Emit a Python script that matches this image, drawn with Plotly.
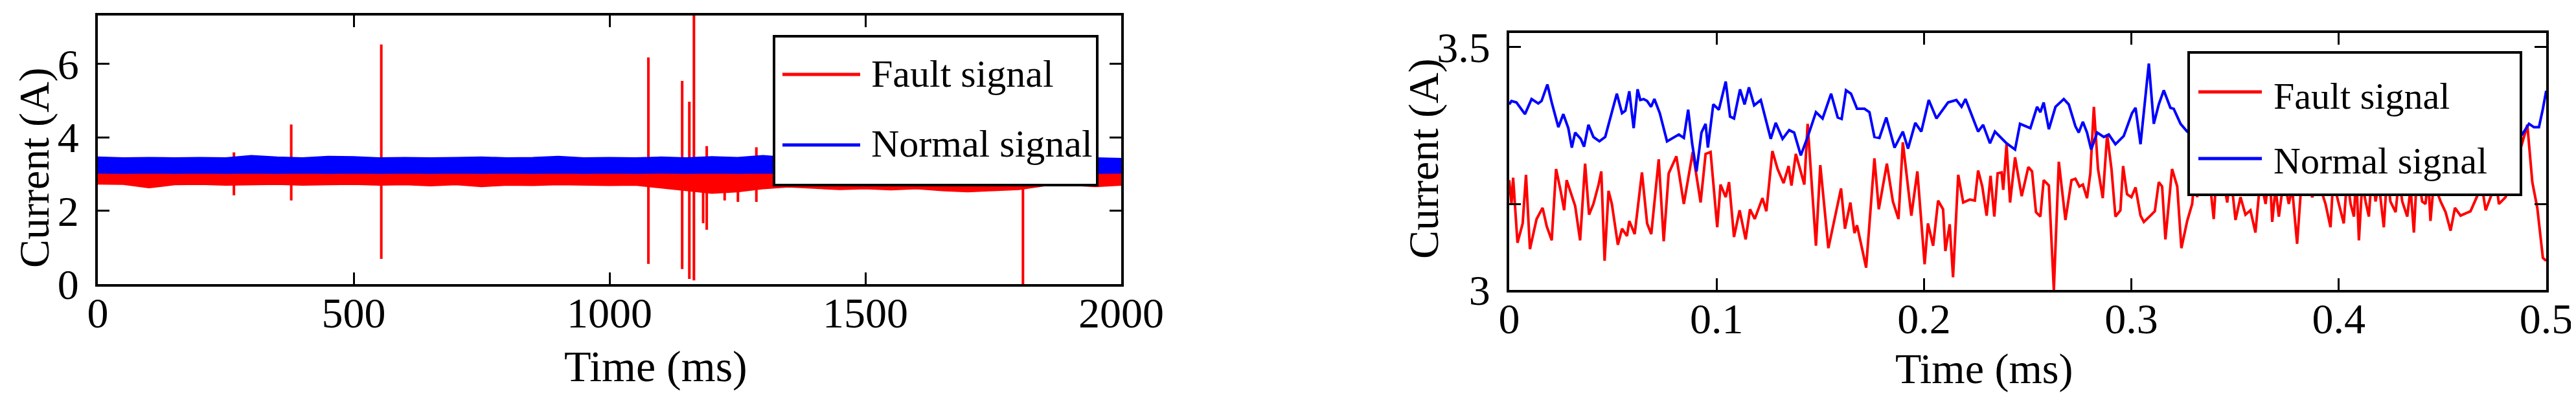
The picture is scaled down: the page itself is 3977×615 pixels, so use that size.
import plotly.graph_objects as go

FONT = "Liberation Serif"
RED = "#FF0000"
BLUE = "#0000FF"

# ---- left panel: 0-2000 ms, dense bands (envelopes) + fault spikes ----
env_t = [0, 50, 100, 150, 200, 250, 300, 350, 400, 450, 500, 550, 600, 650, 700,
         750, 800, 850, 900, 950, 1000, 1050, 1100, 1150, 1200, 1250, 1300, 1350,
         1400, 1450, 1500, 1550, 1600, 1650, 1700, 1750, 1800, 1850, 1900, 1950, 2000]
normal_upper = [3.46, 3.44, 3.45, 3.44, 3.45, 3.44, 3.50, 3.46, 3.44, 3.48, 3.47, 3.44,
                3.45, 3.44, 3.45, 3.46, 3.44, 3.45, 3.48, 3.44, 3.45, 3.44, 3.46, 3.44,
                3.47, 3.45, 3.50, 3.45, 3.44, 3.46, 3.45, 3.44, 3.45, 3.46, 3.44, 3.45,
                3.44, 3.45, 3.46, 3.44, 3.42]
normal_lower = [3.03, 3.02, 3.03, 3.02, 3.03, 3.02, 3.03, 3.02, 3.03, 3.02, 3.03, 3.02,
                3.03, 3.02, 3.03, 3.02, 3.03, 3.02, 3.03, 3.02, 3.03, 3.02, 3.03, 3.02,
                3.03, 3.02, 3.03, 3.02, 3.03, 3.02, 3.03, 3.02, 3.03, 3.02, 3.03, 3.02,
                3.03, 3.02, 3.03, 3.02, 3.03]
fault_upper = [3.08, 3.07, 3.08, 3.07, 3.08, 3.07, 3.08, 3.07, 3.08, 3.07, 3.08, 3.07,
               3.08, 3.07, 3.08, 3.07, 3.08, 3.07, 3.08, 3.07, 3.08, 3.07, 3.08, 3.07,
               3.08, 3.07, 3.08, 3.07, 3.08, 3.07, 3.08, 3.07, 3.08, 3.07, 3.08, 3.07,
               3.08, 3.07, 3.08, 3.07, 3.08]
fault_lower = [2.73, 2.72, 2.63, 2.71, 2.72, 2.70, 2.71, 2.72, 2.70, 2.71, 2.72, 2.70,
               2.71, 2.68, 2.71, 2.66, 2.70, 2.69, 2.71, 2.70, 2.69, 2.70, 2.62, 2.55,
               2.48, 2.52, 2.60, 2.65, 2.62, 2.58, 2.60, 2.57, 2.60, 2.55, 2.52, 2.55,
               2.58, 2.68, 2.70, 2.66, 2.70]

spike_t = [266, 378, 554, 1076, 1142, 1156, 1165, 1183, 1190, 1225, 1251, 1287, 1808]
spike_lo = [2.42, 2.28, 0.69, 0.55, 0.41, 0.14, 0.10, 1.66, 1.48, 2.28, 2.24, 2.24, 0.00]
spike_hi = [3.59, 4.35, 6.53, 6.18, 5.54, 4.97, 7.40, 3.00, 3.76, 3.00, 3.00, 3.73, 2.80]

# ---- right panel: 0-0.5 ms zoom ----
normal_t = [0.0000, 0.0011, 0.0035, 0.0076, 0.0108, 0.0140, 0.0156, 0.0184, 0.0205, 0.0237,
            0.0261, 0.0285, 0.0302, 0.0318, 0.0345, 0.0361, 0.0382, 0.0406, 0.0435, 0.0463,
            0.0519, 0.0544, 0.0560, 0.0579, 0.0600, 0.0619, 0.0632, 0.0648, 0.0665, 0.0684,
            0.0700, 0.0726, 0.0761, 0.0794, 0.0818, 0.0842, 0.0863, 0.0882, 0.0903, 0.0927,
            0.0947, 0.0958, 0.0984, 0.1011, 0.1044, 0.1065, 0.1084, 0.1113, 0.1135, 0.1156,
            0.1181, 0.1213, 0.1261, 0.1285, 0.1318, 0.1350, 0.1374, 0.1406, 0.1439, 0.1479,
            0.1511, 0.1552, 0.1584, 0.1603, 0.1624, 0.1648, 0.1677, 0.1713, 0.1737, 0.1761,
            0.1785, 0.1818, 0.1858, 0.1898, 0.1923, 0.1958, 0.1987, 0.2023, 0.2060, 0.2116,
            0.2156, 0.2181, 0.2200, 0.2261, 0.2285, 0.2318, 0.2342, 0.2398, 0.2439, 0.2463,
            0.2487, 0.2513, 0.2545, 0.2561, 0.2577, 0.2602, 0.2634, 0.2674, 0.2698, 0.2730,
            0.2746, 0.2766, 0.2786, 0.2806, 0.2835, 0.2867, 0.2891, 0.2923, 0.2963, 0.3003,
            0.3020, 0.3044, 0.3084, 0.3108, 0.3132, 0.3156, 0.3188, 0.3204, 0.3237, 0.3269,
            0.331, 0.336, 0.341, 0.347, 0.353, 0.359, 0.366, 0.372, 0.379, 0.386,
            0.393, 0.400, 0.407, 0.414, 0.421, 0.428, 0.435, 0.442, 0.449, 0.456,
            0.463, 0.470, 0.477, 0.484, 0.4884, 0.4917, 0.4941, 0.4965, 0.4984, 0.5000]
normal_i = [3.382, 3.389, 3.386, 3.362, 3.393, 3.384, 3.389, 3.423, 3.386, 3.335,
            3.362, 3.333, 3.293, 3.324, 3.311, 3.295, 3.340, 3.315, 3.306, 3.315,
            3.404, 3.364, 3.369, 3.409, 3.333, 3.413, 3.391, 3.393, 3.389, 3.377,
            3.393, 3.364, 3.306, 3.315, 3.320, 3.313, 3.371, 3.302, 3.244, 3.324,
            3.342, 3.293, 3.382, 3.371, 3.429, 3.357, 3.353, 3.413, 3.382, 3.417,
            3.380, 3.391, 3.311, 3.344, 3.311, 3.329, 3.324, 3.277, 3.315, 3.366,
            3.353, 3.404, 3.355, 3.352, 3.411, 3.404, 3.373, 3.373, 3.366, 3.315,
            3.313, 3.355, 3.293, 3.326, 3.291, 3.344, 3.326, 3.391, 3.353, 3.386,
            3.391, 3.377, 3.393, 3.326, 3.340, 3.302, 3.326, 3.302, 3.289, 3.342,
            3.337, 3.333, 3.377, 3.366, 3.386, 3.331, 3.377, 3.393, 3.382, 3.337,
            3.324, 3.346, 3.324, 3.289, 3.324, 3.315, 3.320, 3.300, 3.317, 3.364,
            3.375, 3.300, 3.466, 3.342, 3.382, 3.411, 3.375, 3.373, 3.342, 3.326,
            3.318, 3.345, 3.330, 3.365, 3.340, 3.372, 3.350, 3.318, 3.335, 3.362,
            3.340, 3.375, 3.352, 3.328, 3.346, 3.370, 3.338, 3.322, 3.350, 3.366,
            3.338, 3.320, 3.342, 3.315, 3.320, 3.342, 3.335, 3.335, 3.373, 3.410]

fault_t = [0.0000, 0.0011, 0.0019, 0.0040, 0.0065, 0.0081, 0.0100, 0.0132, 0.0161, 0.0181,
           0.0205, 0.0226, 0.0248, 0.0265, 0.0277, 0.0294, 0.0318, 0.0342, 0.0366, 0.0385,
           0.0406, 0.0431, 0.0444, 0.0460, 0.0479, 0.0495, 0.0524, 0.0544, 0.0568, 0.0579,
           0.0605, 0.0640, 0.0665, 0.0685, 0.0721, 0.0745, 0.0769, 0.0806, 0.0842, 0.0885,
           0.0923, 0.0947, 0.0971, 0.1003, 0.1019, 0.1044, 0.1060, 0.1084, 0.1111, 0.1140,
           0.1161, 0.1184, 0.1221, 0.1240, 0.1269, 0.1294, 0.1323, 0.1347, 0.1361, 0.1382,
           0.1423, 0.1439, 0.1479, 0.1500, 0.1539, 0.1600, 0.1619, 0.1645, 0.1665, 0.1677,
           0.1721, 0.1761, 0.1782, 0.1821, 0.1850, 0.1877, 0.1898, 0.1939, 0.1968, 0.2003,
           0.2019, 0.2044, 0.2068, 0.2092, 0.2103, 0.2124, 0.2140, 0.2165, 0.2189, 0.2221,
           0.2245, 0.2261, 0.2281, 0.2302, 0.2321, 0.2339, 0.2355, 0.2374, 0.2382, 0.2398,
           0.2415, 0.2439, 0.2471, 0.2503, 0.2521, 0.2540, 0.2561, 0.2577, 0.2602, 0.2626,
           0.2650, 0.2682, 0.2711, 0.2730, 0.2749, 0.2766, 0.2786, 0.2802, 0.2819, 0.2839,
           0.2862, 0.2883, 0.2904, 0.2923, 0.2947, 0.2960, 0.2979, 0.3000, 0.3020, 0.3044,
           0.3060, 0.3092, 0.3113, 0.3132, 0.3148, 0.3164, 0.3196, 0.3221, 0.3241, 0.3269,
           0.3293, 0.3306, 0.3317, 0.3341, 0.3357, 0.3376, 0.3397, 0.3413, 0.3429, 0.3446,
           0.3462, 0.3478, 0.3502, 0.3526, 0.3550, 0.3574, 0.3598, 0.3622, 0.3647, 0.3666,
           0.3679, 0.3695, 0.3711, 0.3735, 0.3759, 0.3775, 0.3799, 0.3823, 0.3872, 0.3904,
           0.3936, 0.3960, 0.3976, 0.3992, 0.4024, 0.4040, 0.4057, 0.4073, 0.4084, 0.4097,
           0.4113, 0.4129, 0.4145, 0.4161, 0.4177, 0.4193, 0.4217, 0.4233, 0.4249, 0.4274,
           0.4290, 0.4306, 0.4330, 0.4346, 0.4362, 0.4378, 0.4402, 0.4418, 0.4431, 0.4442,
           0.4458, 0.4491, 0.4515, 0.4539, 0.4560, 0.4587, 0.4611, 0.4635, 0.4667, 0.4688,
           0.4708, 0.4732, 0.4756, 0.4772, 0.4804, 0.4844, 0.4884, 0.4909, 0.4933, 0.4957,
           0.4984, 0.5000]
fault_i = [3.226, 3.177, 3.231, 3.097, 3.137, 3.237, 3.084, 3.146, 3.169, 3.131,
           3.102, 3.249, 3.204, 3.164, 3.226, 3.204, 3.173, 3.102, 3.260, 3.155,
           3.177, 3.217, 3.244, 3.060, 3.204, 3.177, 3.093, 3.126, 3.111, 3.142,
           3.115, 3.242, 3.137, 3.115, 3.269, 3.100, 3.240, 3.275, 3.177, 3.284,
           3.180, 3.280, 3.284, 3.129, 3.217, 3.191, 3.222, 3.109, 3.164, 3.104,
           3.166, 3.146, 3.189, 3.162, 3.286, 3.249, 3.220, 3.255, 3.215, 3.280,
           3.217, 3.342, 3.091, 3.257, 3.086, 3.209, 3.126, 3.180, 3.117, 3.133,
           3.046, 3.271, 3.166, 3.260, 3.182, 3.146, 3.304, 3.153, 3.244, 3.053,
           3.137, 3.091, 3.184, 3.166, 3.080, 3.135, 3.026, 3.237, 3.180, 3.186,
           3.184, 3.246, 3.213, 3.153, 3.235, 3.151, 3.240, 3.242, 3.206, 3.300,
           3.180, 3.273, 3.193, 3.253, 3.244, 3.160, 3.151, 3.226, 3.215, 3.000,
           3.264, 3.144, 3.226, 3.229, 3.213, 3.217, 3.189, 3.240, 3.377, 3.249,
           3.189, 3.320, 3.249, 3.151, 3.164, 3.255, 3.197, 3.191, 3.211, 3.153,
           3.140, 3.153, 3.162, 3.222, 3.213, 3.104, 3.249, 3.213, 3.086, 3.142,
           3.177, 3.240, 3.191, 3.250, 3.200, 3.230, 3.146, 3.260, 3.195, 3.220,
           3.180, 3.240, 3.144, 3.191, 3.155, 3.164, 3.118, 3.230, 3.177, 3.250,
           3.140, 3.210, 3.151, 3.230, 3.177, 3.210, 3.095, 3.240, 3.191, 3.220,
           3.177, 3.129, 3.250, 3.191, 3.137, 3.230, 3.177, 3.151, 3.240, 3.102,
           3.220, 3.182, 3.151, 3.250, 3.182, 3.220, 3.129, 3.240, 3.182, 3.160,
           3.230, 3.182, 3.151, 3.210, 3.118, 3.250, 3.182, 3.177, 3.230, 3.142,
           3.220, 3.182, 3.160, 3.122, 3.169, 3.153, 3.157, 3.162, 3.193, 3.220,
           3.164, 3.191, 3.230, 3.177, 3.191, 3.244, 3.302, 3.340, 3.222, 3.169,
           3.066, 3.060]

fig = go.Figure()

# left: fault band, spikes, then normal band on top
fig.add_trace(go.Scatter(
    x=env_t + env_t[::-1], y=fault_upper + fault_lower[::-1],
    fill="toself", fillcolor=RED, line=dict(color=RED, width=2),
    mode="lines", showlegend=False, hoverinfo="skip", xaxis="x", yaxis="y"))

sx, sy = [], []
for t, lo, hi in zip(spike_t, spike_lo, spike_hi):
    sx += [t, t, None]
    sy += [lo, hi, None]
fig.add_trace(go.Scatter(x=sx, y=sy, mode="lines", line=dict(color=RED, width=4),
                         showlegend=False, xaxis="x", yaxis="y"))

fig.add_trace(go.Scatter(
    x=env_t + env_t[::-1], y=normal_upper + normal_lower[::-1],
    fill="toself", fillcolor=BLUE, line=dict(color=BLUE, width=2),
    mode="lines", showlegend=False, hoverinfo="skip", xaxis="x", yaxis="y"))

# right
fig.add_trace(go.Scatter(x=fault_t, y=fault_i, mode="lines", line=dict(color=RED, width=4),
                         showlegend=False, xaxis="x2", yaxis="y2"))
fig.add_trace(go.Scatter(x=normal_t, y=normal_i, mode="lines", line=dict(color=BLUE, width=4),
                         showlegend=False, xaxis="x2", yaxis="y2"))

W, H = 3977, 615


def px(x):
    return x / W


def py(y):
    return (H - y) / H


ax_common = dict(showline=True, linecolor="black", linewidth=4, mirror="ticks",
                 ticks="inside", ticklen=18, tickwidth=3, tickcolor="black",
                 showgrid=False, zeroline=False, automargin=False,
                 tickfont=dict(family=FONT, size=66, color="black"))

fig.update_layout(
    width=W, height=H,
    margin=dict(l=0, r=0, t=0, b=0, pad=0, autoexpand=False),
    paper_bgcolor="white", plot_bgcolor="white",
    xaxis=dict(ax_common, domain=[px(143), px(1723)], range=[0, 2000],
               tickvals=[0, 500, 1000, 1500, 2000], anchor="y", ticklabelstandoff=-16),
    yaxis=dict(ax_common, domain=[py(431), py(16)], range=[0, 7.32],
               tickvals=[0, 2, 4, 6], anchor="x", ticklabelstandoff=12),
    xaxis2=dict(ax_common, domain=[px(2322), px(3923)], range=[0, 0.5],
                tickvals=[0, 0.1, 0.2, 0.3, 0.4, 0.5], anchor="y2", ticklabelstandoff=-16),
    yaxis2=dict(ax_common, domain=[py(440), py(43)], range=[3, 3.529],
                tickvals=[3, 3.177, 3.5], ticktext=["3", "", "3.5"], anchor="x2",
                ticklabelstandoff=12),
)

titles = [
    ("Current (A)", 45, 251, -90, 66),
    ("Time (ms)", 1005, 558, 0, 68),
    ("Current (A)", 2190, 237, -90, 66),
    ("Time (ms)", 3055, 562, 0, 66),
]
for text, x, y, ang, size in titles:
    fig.add_annotation(text=text, x=px(x), y=py(y), xref="paper", yref="paper",
                       xanchor="center", yanchor="middle", textangle=ang, showarrow=False,
                       font=dict(family=FONT, size=size, color="black"))

# legends drawn as boxed keys
legends = [
    # box x0, x1, y0, y1, line x0, x1, line ys, text x, text ys, font size
    (1187, 1686, 48, 278, 1200, 1320, (107, 216), 1335, (106, 214), 60),
    (3371, 3884, 73, 293, 3386, 3484, (134, 237), 3500, (140, 240), 58),
]
for bx0, bx1, by0, by1, lx0, lx1, lys, tx, tys, fs in legends:
    fig.add_shape(type="rect", xref="paper", yref="paper", x0=px(bx0), x1=px(bx1),
                  y0=py(by1), y1=py(by0), fillcolor="white",
                  line=dict(color="black", width=4), layer="above")
    for ly, col in zip(lys, [RED, BLUE]):
        fig.add_shape(type="line", xref="paper", yref="paper", x0=px(lx0), x1=px(lx1),
                      y0=py(ly), y1=py(ly), line=dict(color=col, width=5), layer="above")
    for ty, label in zip(tys, ["Fault signal", "Normal signal"]):
        fig.add_annotation(text=label, x=px(tx), y=py(ty), xref="paper", yref="paper",
                           xanchor="left", yanchor="middle", showarrow=False,
                           font=dict(family=FONT, size=fs, color="black"))

fig.write_html("out.html")
